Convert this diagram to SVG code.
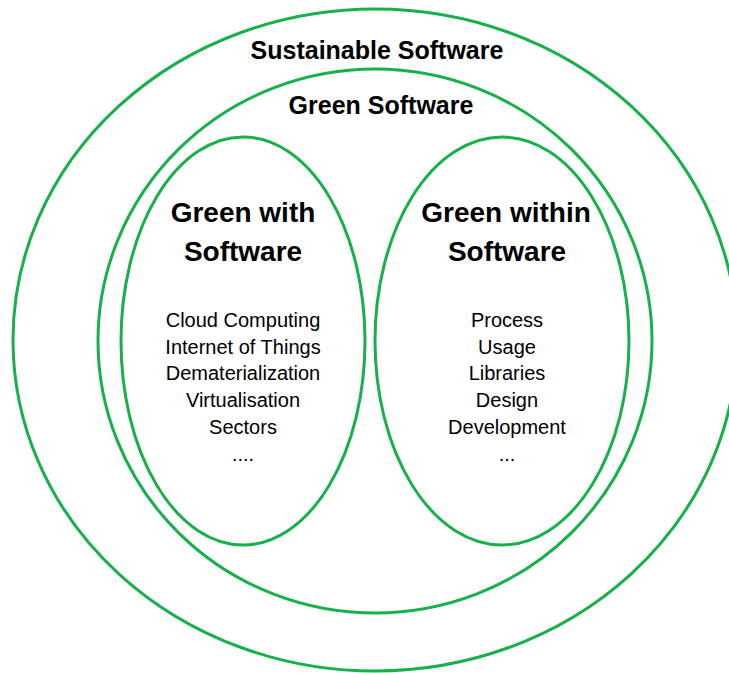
<svg xmlns="http://www.w3.org/2000/svg" width="729" height="673" viewBox="0 0 729 673">
<style>
.ring{fill:none;stroke:#17B04B;stroke-width:3}
.t{font-family:"Liberation Sans",Arial,sans-serif;fill:#000;text-anchor:middle}
.h1{font-size:25px;font-weight:bold}
.h2{font-size:28px;font-weight:bold}
.b{font-size:20px}
</style>
<rect width="729" height="673" fill="#fff"/>
<g id="sustainable">
<ellipse class="ring" cx="375" cy="340" rx="362" ry="331"/>
<text class="t h1" x="377" y="59">Sustainable Software</text>
</g>
<g id="green">
<ellipse class="ring" cx="375" cy="341" rx="277" ry="272"/>
<text class="t h1" x="381" y="114">Green Software</text>
</g>
<g id="green-with">
<ellipse class="ring" cx="243" cy="341" rx="122" ry="204"/>
<text class="t h2" x="243" y="222">Green with</text>
<text class="t h2" x="243" y="261">Software</text>
<text class="t b" x="243" y="327">Cloud Computing</text>
<text class="t b" x="243" y="354">Internet of Things</text>
<text class="t b" x="243" y="380">Dematerialization</text>
<text class="t b" x="243" y="407">Virtualisation</text>
<text class="t b" x="243" y="434">Sectors</text>
<text class="t b" x="243" y="461">....</text>
</g>
<g id="green-within">
<ellipse class="ring" cx="502" cy="341" rx="127" ry="204"/>
<text class="t h2" x="506" y="222">Green within</text>
<text class="t h2" x="507" y="261">Software</text>
<text class="t b" x="507" y="327">Process</text>
<text class="t b" x="507" y="354">Usage</text>
<text class="t b" x="507" y="380">Libraries</text>
<text class="t b" x="507" y="407">Design</text>
<text class="t b" x="507" y="434">Development</text>
<text class="t b" x="507" y="461">...</text>
</g>
<g id="connectors"></g>
</svg>
